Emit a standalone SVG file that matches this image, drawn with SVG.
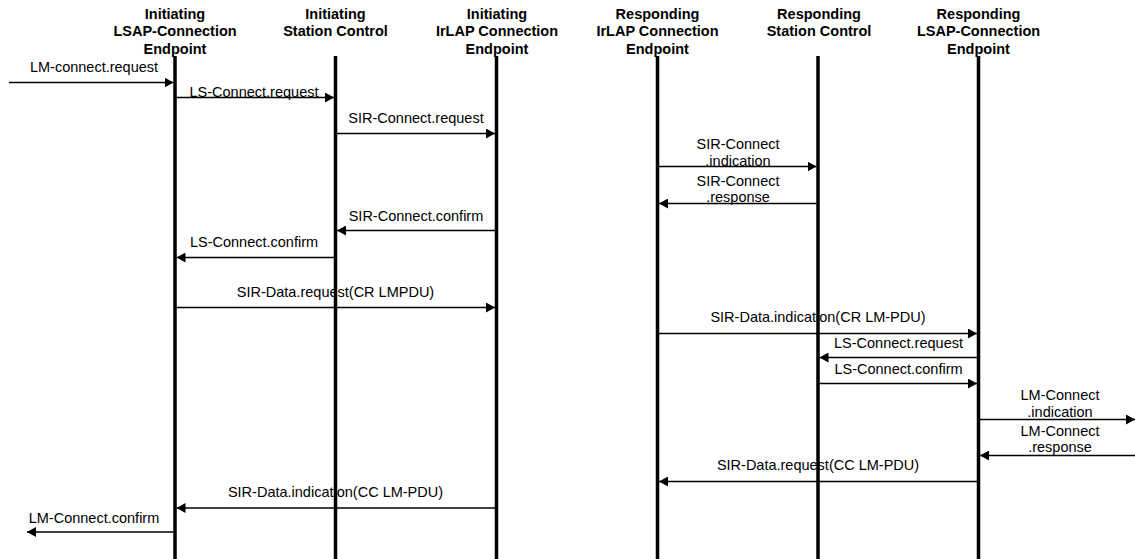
<svg xmlns="http://www.w3.org/2000/svg" width="1135" height="559" viewBox="0 0 1135 559">
<style>
.hdr{font-family:"Liberation Sans",Arial,sans-serif;font-size:14.5px;font-weight:bold;fill:#000;text-anchor:middle}
.lbl{font-family:"Liberation Sans",Arial,sans-serif;font-size:14.5px;fill:#000;text-anchor:middle}
.life{stroke:#000;stroke-width:3.5;fill:none}
.msg{stroke:#000;stroke-width:1.4;fill:none;marker-end:url(#ah)}
</style>
<defs>
<marker id="ah" markerUnits="userSpaceOnUse" markerWidth="9" markerHeight="10" refX="9" refY="5" orient="auto">
<path d="M0,0 L9,5 L0,10 z" fill="#000"/>
</marker>
</defs>
<rect width="1135" height="559" fill="#fff"/>
<g id="init-lsap">
<text class="hdr" x="175" y="18.5">Initiating</text>
<text class="hdr" x="175" y="36">LSAP-Connection</text>
<text class="hdr" x="175" y="53.5">Endpoint</text>
<line class="life" x1="175" y1="56" x2="175" y2="559"/>
</g>
<g id="init-sc">
<text class="hdr" x="335.5" y="18.5">Initiating</text>
<text class="hdr" x="335.5" y="36">Station Control</text>
<line class="life" x1="335.5" y1="56" x2="335.5" y2="559"/>
</g>
<g id="init-irlap">
<text class="hdr" x="497" y="18.5">Initiating</text>
<text class="hdr" x="497" y="36">IrLAP Connection</text>
<text class="hdr" x="497" y="53.5">Endpoint</text>
<line class="life" x1="496.5" y1="56" x2="496.5" y2="559"/>
</g>
<g id="resp-irlap">
<text class="hdr" x="657.5" y="18.5">Responding</text>
<text class="hdr" x="657.5" y="36">IrLAP Connection</text>
<text class="hdr" x="657.5" y="53.5">Endpoint</text>
<line class="life" x1="657.5" y1="56" x2="657.5" y2="559"/>
</g>
<g id="resp-sc">
<text class="hdr" x="819" y="18.5">Responding</text>
<text class="hdr" x="819" y="36">Station Control</text>
<line class="life" x1="818" y1="56" x2="818" y2="559"/>
</g>
<g id="resp-lsap">
<text class="hdr" x="978.5" y="18.5">Responding</text>
<text class="hdr" x="978.5" y="36">LSAP-Connection</text>
<text class="hdr" x="978.5" y="53.5">Endpoint</text>
<line class="life" x1="978.5" y1="56" x2="978.5" y2="559"/>
</g>
<g id="connectors">
<line class="msg" x1="9" y1="82.5" x2="173.5" y2="82.5"/>
<text class="lbl" x="94" y="72">LM-connect.request</text>
<line class="msg" x1="176.5" y1="97.5" x2="334" y2="97.5"/>
<text class="lbl" x="254" y="97">LS-Connect.request</text>
<line class="msg" x1="337" y1="133.5" x2="495" y2="133.5"/>
<text class="lbl" x="416" y="122.5">SIR-Connect.request</text>
<line class="msg" x1="659" y1="166.5" x2="816.5" y2="166.5"/>
<text class="lbl" x="738" y="149">SIR-Connect</text>
<text class="lbl" x="738" y="166">.indication</text>
<line class="msg" x1="816.5" y1="203.5" x2="659" y2="203.5"/>
<text class="lbl" x="738" y="185.5">SIR-Connect</text>
<text class="lbl" x="738" y="202">.response</text>
<line class="msg" x1="495" y1="230.5" x2="337" y2="230.5"/>
<text class="lbl" x="416" y="220.5">SIR-Connect.confirm</text>
<line class="msg" x1="334" y1="257.5" x2="176.5" y2="257.5"/>
<text class="lbl" x="254" y="246.5">LS-Connect.confirm</text>
<line class="msg" x1="176.5" y1="307.5" x2="495" y2="307.5"/>
<text class="lbl" x="335.5" y="297">SIR-Data.request(CR LMPDU)</text>
<line class="msg" x1="659" y1="333.5" x2="977" y2="333.5"/>
<text class="lbl" x="818" y="322">SIR-Data.indication(CR LM-PDU)</text>
<line class="msg" x1="977" y1="357.5" x2="819.5" y2="357.5"/>
<text class="lbl" x="898.5" y="348">LS-Connect.request</text>
<line class="msg" x1="819.5" y1="383.5" x2="977" y2="383.5"/>
<text class="lbl" x="898.5" y="374">LS-Connect.confirm</text>
<line class="msg" x1="980" y1="419.5" x2="1135" y2="419.5"/>
<text class="lbl" x="1060" y="400">LM-Connect</text>
<text class="lbl" x="1060" y="416.5">.indication</text>
<line class="msg" x1="1135" y1="455.5" x2="980" y2="455.5"/>
<text class="lbl" x="1060" y="435.5">LM-Connect</text>
<text class="lbl" x="1060" y="452">.response</text>
<line class="msg" x1="977" y1="481.5" x2="659" y2="481.5"/>
<text class="lbl" x="818" y="470">SIR-Data.request(CC LM-PDU)</text>
<line class="msg" x1="495" y1="508" x2="176.5" y2="508"/>
<text class="lbl" x="335.5" y="497">SIR-Data.indication(CC LM-PDU)</text>
<line class="msg" x1="173.5" y1="532" x2="27" y2="532"/>
<text class="lbl" x="94" y="523">LM-Connect.confirm</text>
</g>
</svg>
